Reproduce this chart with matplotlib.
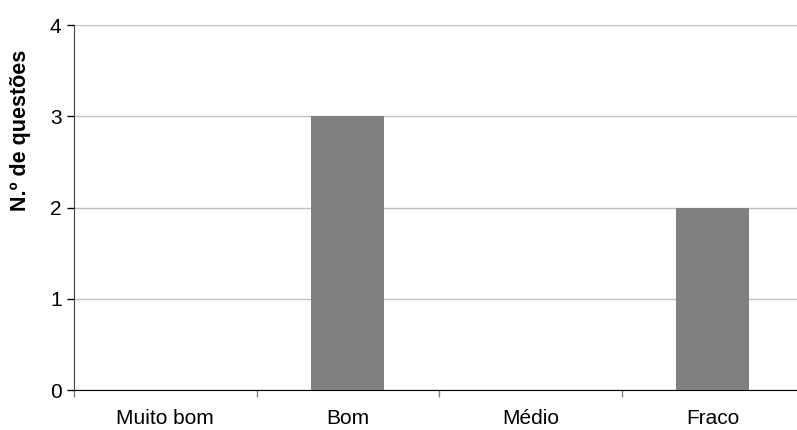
import matplotlib
matplotlib.use("Agg")
from matplotlib import pyplot as plt
import numpy as np

categories = ["Muito bom", "Bom", "Médio", "Fraco"]
values = [0, 3, 0, 2]
y_ticks = [0, 1, 2, 3, 4]

plt.rcParams["font.family"] = ["Liberation Sans", "DejaVu Sans"]

fig = plt.figure(figsize=(7.97, 4.30), dpi=100)
ax = fig.add_axes([74 / 797, 40 / 430, 730 / 797, 365 / 430])

x = np.arange(len(categories))
ax.bar(x, values, width=0.4, color="#808080", zorder=3)

ax.set_xlim(-0.5, len(categories) - 0.5)
ax.set_ylim(0, 4)
ax.set_yticks(y_ticks)
ax.yaxis.grid(True, color="#c0c0c0", linewidth=1, zorder=0)

ax.set_xticks(x)
ax.set_xticklabels(categories, fontsize=15)
ax.set_xticks(np.arange(len(categories) + 1) - 0.5, minor=True)
ax.tick_params(axis="x", which="major", length=0, pad=14)
ax.tick_params(axis="x", which="minor", length=5, color="#808080", width=1)
ax.tick_params(axis="y", length=5, width=1, labelsize=15, pad=4)

for side in ["top", "right"]:
    ax.spines[side].set_visible(False)
ax.spines["bottom"].set_color("black")
ax.spines["left"].set_color("#404040")

ax.set_ylabel("N.º de questões", fontsize=15.5, fontweight="bold")
ax.yaxis.set_label_coords(-0.059, 0.71)

fig.savefig("out.png", dpi=100)
